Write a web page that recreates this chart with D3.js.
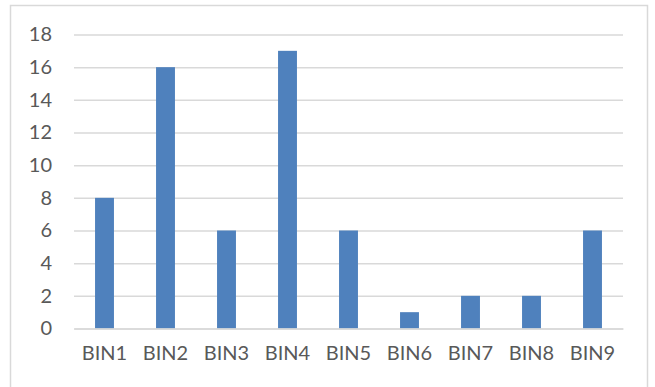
<!DOCTYPE html>
<html>
<head>
<meta charset="utf-8">
<script src="https://cdn.jsdelivr.net/npm/d3@7"></script>
<style>
  html, body { margin: 0; padding: 0; background: #fff; }
  svg { display: block; }
</style>
</head>
<body>
<svg id="chart" width="655" height="387"></svg>
<script>
const categories = ["BIN1", "BIN2", "BIN3", "BIN4", "BIN5", "BIN6", "BIN7", "BIN8", "BIN9"];
const values = [8, 16, 6, 17, 6, 1, 2, 2, 6];
const yTicks = [0, 2, 4, 6, 8, 10, 12, 14, 16, 18];

const svg = d3.select("#chart");
const W = 655, H = 387;
const margin = { left: 74, right: 32, top: 34.5, bottom: 58.5 };
const fontFamily = "Lato, 'Open Sans', sans-serif";

// chart border
svg.append("rect")
  .attr("x", 10.5).attr("y", 5.5)
  .attr("width", 637).attr("height", 385)
  .attr("fill", "#fff").attr("stroke", "#D9D9D9").attr("stroke-width", 1.5);

const x = d3.scaleBand().domain(categories)
  .range([margin.left, W - margin.right])
  .paddingInner(0.69).paddingOuter(0.345);
const y = d3.scaleLinear().domain([0, 18]).range([H - margin.bottom, margin.top]);

// gridlines
const grid = d3.axisLeft(y).tickValues(yTicks)
  .tickSize(-(W - margin.right - margin.left)).tickFormat("");
const g = svg.append("g").attr("transform", `translate(${margin.left},0)`).call(grid);
g.select(".domain").remove();
g.selectAll(".tick line").attr("stroke", "#D9D9D9").attr("stroke-width", 1.5);

// y labels
const yAxis = d3.axisLeft(y).tickValues(yTicks).tickSize(0).tickPadding(22);
const ya = svg.append("g").attr("transform", `translate(${margin.left},0)`).call(yAxis);
ya.select(".domain").remove();
ya.selectAll("text").attr("fill", "#595959").style("font-family", fontFamily).style("font-size", "20px");

// bars
svg.append("g").selectAll("rect").data(values).join("rect")
  .attr("x", (d, i) => x(categories[i]))
  .attr("width", x.bandwidth())
  .attr("y", d => y(d))
  .attr("height", d => y(0) - y(d))
  .attr("fill", "#4F81BD");

// x axis
const xAxis = d3.axisBottom(x).tickSize(0).tickPadding(17);
const xa = svg.append("g").attr("transform", `translate(0,${y(0)})`).call(xAxis);
xa.select(".domain").attr("stroke", "#D9D9D9").attr("stroke-width", 1.5);
xa.selectAll("text").attr("fill", "#595959").style("font-family", fontFamily).style("font-size", "20px");
</script>
</body>
</html>
